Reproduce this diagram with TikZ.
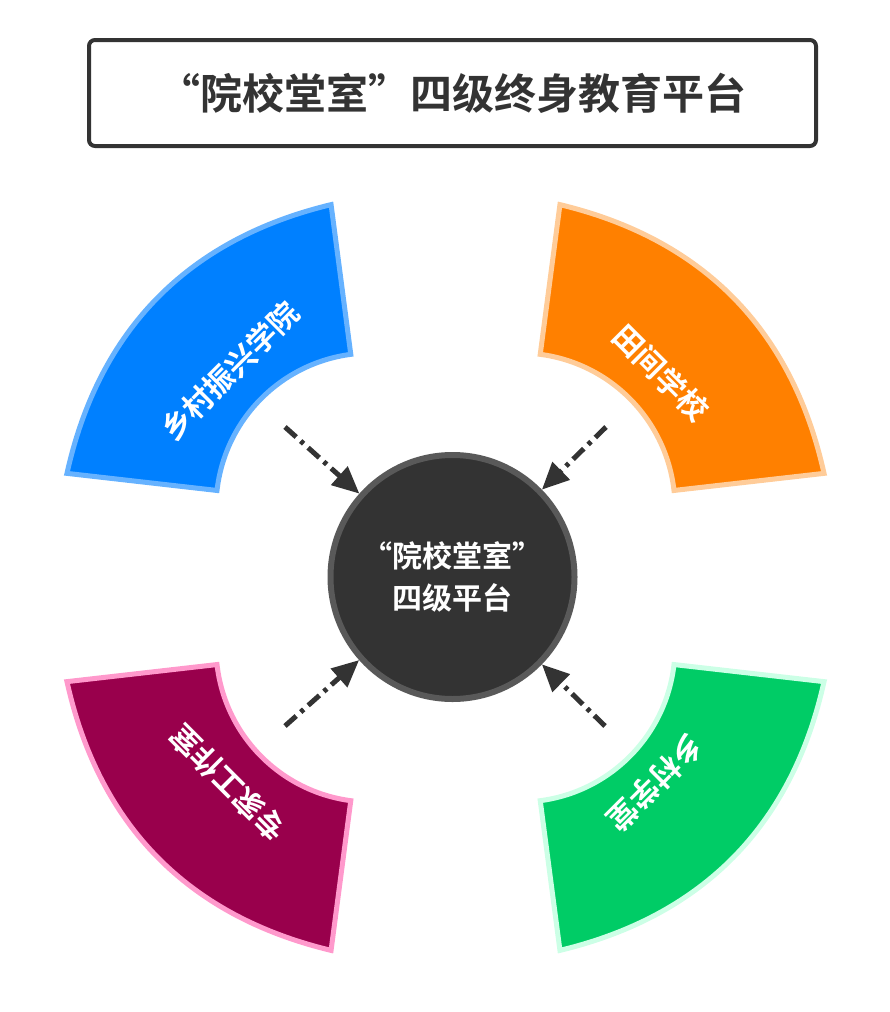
\documentclass[tikz,border=0pt]{standalone}
\usepackage{fontspec}
\setmainfont{Noto Sans CJK SC}[BoldFont={* Bold}]
\usetikzlibrary{arrows.meta}
\definecolor{ink}{HTML}{333333}
\definecolor{rim}{HTML}{595959}
\definecolor{xcfill}{HTML}{0080FF}
\definecolor{xcrim}{HTML}{66B2FF}
\definecolor{tjfill}{HTML}{FF8000}
\definecolor{tjrim}{HTML}{FFCC99}
\definecolor{xtfill}{HTML}{00CC66}
\definecolor{xtrim}{HTML}{CCFFE6}
\definecolor{zjfill}{HTML}{99004C}
\definecolor{zjrim}{HTML}{FF99CC}
\begin{document}
\begin{tikzpicture}[x=1pt, y=-1pt,
    titlebox/.style={draw=ink, line width=4pt, rounded corners=6pt, minimum width=727pt, minimum height=106pt, text=ink, font=\bfseries\fontsize{42}{50}\selectfont},
    hubnode/.style={circle, fill=ink, draw=rim, line width=6pt, minimum size=244pt, inner sep=0pt, text=white, align=center, font=\bfseries\fontsize{30}{42}\selectfont},
    sector/.style={line width=5pt, line join=miter},
    seclabel/.style={text=white, font=\bfseries\fontsize{30}{36}\selectfont},
    link/.style={ink, line width=5pt, dash pattern=on 15pt off 6pt on 4pt off 6pt, -{Triangle[length=27pt, width=24pt]}}]
  \useasboundingbox (0,0) rectangle (889,1012);

  \node[titlebox] (title) at (452.5,93) {“院校堂室”四级终身教育平台};

  % four sectors
  \draw[sector, fill=xcfill, draw=xcrim] ([shift={(371,508)}]186.5:155) arc[start angle=186.5, end angle=262.5, radius=155]
    -- ([shift={(371,508)}]262.5:306) to[bend right=32] ([shift={(371,508)}]186.5:306) -- cycle;
  \draw[sector, fill=tjfill, draw=tjrim] ([shift={(520,508)}]-82.5:155) arc[start angle=-82.5, end angle=-6.5, radius=155]
    -- ([shift={(520,508)}]-6.5:306) to[bend right=32] ([shift={(520,508)}]-82.5:306) -- cycle;
  \draw[sector, fill=xtfill, draw=xtrim] ([shift={(520,647)}]6.5:155) arc[start angle=6.5, end angle=82.5, radius=155]
    -- ([shift={(520,647)}]82.5:306) to[bend right=32] ([shift={(520,647)}]6.5:306) -- cycle;
  \draw[sector, fill=zjfill, draw=zjrim] ([shift={(371,647)}]97.5:155) arc[start angle=97.5, end angle=173.5, radius=155]
    -- ([shift={(371,647)}]173.5:306) to[bend right=32] ([shift={(371,647)}]97.5:306) -- cycle;

  \node[seclabel, rotate=45] (xc) at (230,371) {乡村振兴学院};
  \node[seclabel, rotate=-45] (tj) at (661,373) {田间学校};
  \node[seclabel, rotate=-135] (xt) at (655,783) {乡村学堂};
  \node[seclabel, rotate=135] (zj) at (228,783) {专家工作室};

  \node[hubnode] (hub) at (452.5,577) {“院校堂室”\\四级平台};

  \coordinate (a1) at (285,427);
  \coordinate (a2) at (606,427);
  \coordinate (a3) at (285,726);
  \coordinate (a4) at (605,726);
  \draw[link] (a1) -- (hub);
  \draw[link] (a2) -- (hub);
  \draw[link] (a3) -- (hub);
  \draw[link] (a4) -- (hub);
\end{tikzpicture}
\end{document}
